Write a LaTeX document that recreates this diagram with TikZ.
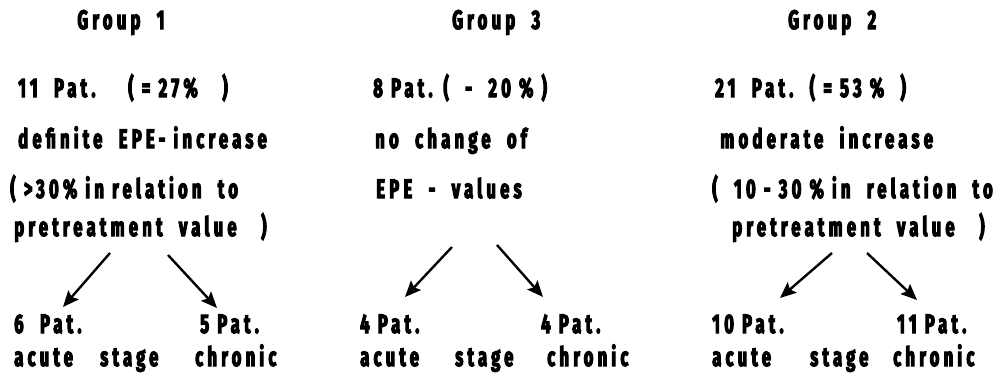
\documentclass[tikz,border=0pt]{standalone}
\usepackage{fontspec}
\setmainfont{Fira Sans}[FakeStretch=0.62, LetterSpace=16, FakeBold=4]
\usepackage{tikz}
\usetikzlibrary{arrows.meta}

\begin{document}
\begin{tikzpicture}[scale=1,
    every node/.style={anchor=base west, inner sep=0pt,
      font=\fontsize{19}{22}\selectfont\bfseries},
    arr/.style={-{Stealth[length=4mm,width=3.4mm,inset=0.7mm]}, line width=1.7pt}]
        \useasboundingbox (0,0) rectangle (24.925,-9.325);
        %% group 1
        \node (g1)     at ( 1.93,-0.725) {Group~~1};
        \node (g1pat)  at ( 0.45,-2.425) {11~~Pat.~~~~( = 27\%~~~)};
        \node (g1def)  at ( 0.45,-3.7)   {definite~~EPE- increase};
        \node (g1rel)  at ( 0.25,-4.95)  {(~>30\% in~relation~~to};
        \node (g1pre)  at ( 0.35,-5.9)   {pretreatment~~value~~~)};
        \node (g1acp)  at ( 0.35,-8.325) {6~~Pat.};
        \node (g1chp)  at ( 5.0, -8.325) {5 Pat.};
        \node (g1ac)   at ( 0.35,-9.15)  {acute};
        \node (g1st)   at ( 2.5, -9.15)  {stage};
        \node (g1ch)   at ( 4.875,-9.15) {chronic};
        \coordinate (g1l0) at ( 2.75,-6.325);
        \coordinate (g1l1) at ( 1.575,-7.675);
        \coordinate (g1r0) at ( 4.2, -6.375);
        \coordinate (g1r1) at ( 5.425,-7.7);
        %% group 3
        \node (g3)     at (11.3, -0.725) {Group~~3};
        \node (g3pat)  at ( 9.325,-2.425) {8 Pat. (~~-~~20 \%~)};
        \node (g3no)   at ( 9.375,-3.7)  {no~~change~~of};
        \node (g3epe)  at ( 9.4, -4.95)  {EPE~~-~~values};
        \node (g3acp)  at ( 9.0, -8.325) {4 Pat.};
        \node (g3chp)  at (13.525,-8.325) {4 Pat.};
        \node (g3ac)   at ( 9.0, -9.15)  {acute};
        \node (g3st)   at (11.375,-9.15) {stage};
        \node (g3ch)   at (13.675,-9.15) {chronic};
        \coordinate (g3l0) at (11.3, -6.175);
        \coordinate (g3l1) at (10.125,-7.425);
        \coordinate (g3r0) at (12.425,-6.125);
        \coordinate (g3r1) at (13.575,-7.425);
        %% group 2
        \node (g2)     at (19.7, -0.725) {Group~~2};
        \node (g2pat)  at (17.875,-2.425) {21~~Pat.~~( = 53~\%~~)};
        \node (g2mod)  at (18.0, -3.7)   {moderate~~increase};
        \node (g2rel)  at (17.8, -4.95)  {(~~10 - 30 \% in~~relation~~to};
        \node (g2pre)  at (18.3, -5.9)   {pretreatment~~value~~~)};
        \node (g2acp)  at (17.8, -8.325) {10 Pat.};
        \node (g2chp)  at (22.425,-8.325) {11 Pat.};
        \node (g2ac)   at (17.8, -9.15)  {acute};
        \node (g2st)   at (20.25,-9.15)  {stage};
        \node (g2ch)   at (22.325,-9.15) {chronic};
        \coordinate (g2l0) at (20.8, -6.325);
        \coordinate (g2l1) at (19.5, -7.45);
        \coordinate (g2r0) at (21.675,-6.325);
        \coordinate (g2r1) at (22.925,-7.5);
        \draw[arr] (g1l0) -- (g1l1);
        \draw[arr] (g1r0) -- (g1r1);
        \draw[arr] (g3l0) -- (g3l1);
        \draw[arr] (g3r0) -- (g3r1);
        \draw[arr] (g2l0) -- (g2l1);
        \draw[arr] (g2r0) -- (g2r1);
      \end{tikzpicture}
\end{document}
